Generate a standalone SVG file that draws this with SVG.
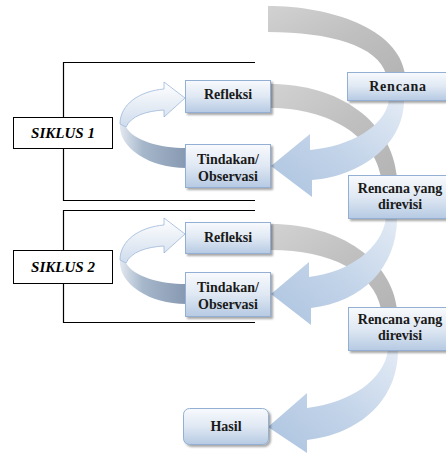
<svg xmlns="http://www.w3.org/2000/svg" width="446" height="454" viewBox="0 0 446 454">
<defs>
<linearGradient id="boxG" x1="0" y1="0" x2="0" y2="1">
<stop offset="0" stop-color="#f8fafd"/><stop offset="0.5" stop-color="#dfe8f3"/><stop offset="1" stop-color="#b6cae3"/>
</linearGradient>
<linearGradient id="grayG" x1="0" y1="0" x2="1" y2="1">
<stop offset="0" stop-color="#d2d2d2"/><stop offset="0.5" stop-color="#c0c0c0"/><stop offset="1" stop-color="#b4b4b4"/>
</linearGradient>
<linearGradient id="blueG" x1="1" y1="0" x2="0" y2="1">
<stop offset="0" stop-color="#e3ebf5"/><stop offset="0.5" stop-color="#c3d4e9"/><stop offset="1" stop-color="#acc3df"/>
</linearGradient>
<linearGradient id="loopL" x1="0" y1="0" x2="0" y2="1">
<stop offset="0" stop-color="#ffffff"/><stop offset="1" stop-color="#cfdcec"/>
</linearGradient>
<linearGradient id="loopD" x1="0" y1="0" x2="1" y2="0">
<stop offset="0" stop-color="#e2e8f0"/><stop offset="0.35" stop-color="#a6b7cb"/><stop offset="1" stop-color="#8799b1"/>
</linearGradient>
<filter id="sh" x="-10%" y="-10%" width="130%" height="150%">
<feGaussianBlur in="SourceAlpha" stdDeviation="1.2"/>
<feOffset dx="1.5" dy="2"/>
<feComponentTransfer><feFuncA type="linear" slope="0.35"/></feComponentTransfer>
<feMerge><feMergeNode/><feMergeNode in="SourceGraphic"/></feMerge>
</filter>
</defs>
<style>
.box{fill:url(#boxG);stroke:#93afd3;stroke-width:1;filter:url(#sh)}
.sik{fill:#ffffff;stroke:#000000;stroke-width:1}
.t{font-family:"Liberation Serif","Times New Roman",serif;font-weight:bold;font-size:14px;fill:#1a1a1a;text-anchor:middle}
.ti{font-family:"Liberation Serif","Times New Roman",serif;font-weight:bold;font-style:italic;font-size:15px;fill:#000000;text-anchor:middle}
.br{fill:none;stroke:#000000;stroke-width:1.2}
.gray{fill:url(#grayG)}
.blue{fill:url(#blueG)}
.ll{fill:url(#loopL);stroke:#9db8da;stroke-width:0.8}
.ld{fill:url(#loopD)}
</style>

<g id="brackets">
<path class="br" d="M255,62.5 H63.5 V200.5 H255"/>
<path class="br" d="M255,210.5 H63.5 V322.5 H255"/>
</g>

<g id="connectors">
<path class="gray" d="M268,6 C330,6 398,28 405,74 L386,74 C378,46 330,32 268,32 Z"/>
<path class="gray" d="M270,84 C340,84 392,122 397,177 L381,177 C374,137 330,108 270,108 Z"/>
<path class="gray" d="M271,224 C342,224 392,262 397,309 L381,309 C374,272 330,250 271,250 Z"/>
<path class="blue" d="M389,100 C385,126 352,146 310,150 L310,134 L271,166 L312,197 L312,180 C362,176 404,144 404,100 Z"/>
<path class="blue" d="M386,218 C382,248 350,272 309,277 L309,262 L271,294 L311,325 L311,308 C362,302 397,268 397,218 Z"/>
<path class="blue" d="M388,350 C384,380 350,403 307,408 L307,393 L268,427 L307,453 L307,440 C360,434 398,400 398,350 Z"/>
<g id="loop1">
<path class="ld" d="M186,148 C160,148 134,141 126,127 L120,124 C118,148 150,168 186,168 Z"/>
<path class="ll" d="M120,124 C120,104 140,91 164,89 L164,82 L185,98 L164,117 L164,110 C146,111 131,116 126,127 Z"/>
</g>
<g id="loop2" transform="translate(0,136)">
<path class="ld" d="M186,148 C160,148 134,141 126,127 L120,124 C118,148 150,168 186,168 Z"/>
<path class="ll" d="M120,124 C120,104 140,91 164,89 L164,82 L185,98 L164,117 L164,110 C146,111 131,116 126,127 Z"/>
</g>
</g>

<g id="siklus1"><rect class="sik" x="13.5" y="117.5" width="99" height="31"/><text class="ti" x="63" y="138">SIKLUS 1</text></g>
<g id="siklus2"><rect class="sik" x="13.5" y="250.5" width="99" height="33"/><text class="ti" x="63" y="272">SIKLUS 2</text></g>

<g id="rencana"><rect class="box" x="347.5" y="72.5" width="102" height="28"/><text class="t" x="398" y="91" letter-spacing="0.8">Rencana</text></g>
<g id="refleksi1"><rect class="box" x="185.5" y="80.5" width="85" height="32"/><text class="t" x="228" y="99">Refleksi</text></g>
<g id="tindakan1"><rect class="box" x="185.5" y="144.5" width="85" height="43"/><text class="t" x="228" y="164">Tindakan/</text><text class="t" x="228" y="181">Observasi</text></g>
<g id="revisi1"><rect class="box" x="348.5" y="175.5" width="102" height="43"/><text class="t" x="400" y="193">Rencana yang</text><text class="t" x="400" y="209">direvisi</text></g>
<g id="refleksi2"><rect class="box" x="185.5" y="222.5" width="85" height="31"/><text class="t" x="228" y="242">Refleksi</text></g>
<g id="tindakan2"><rect class="box" x="185.5" y="272.5" width="85" height="44"/><text class="t" x="228" y="292">Tindakan/</text><text class="t" x="228" y="309">Observasi</text></g>
<g id="revisi2"><rect class="box" x="348.5" y="307.5" width="102" height="43"/><text class="t" x="400" y="324">Rencana yang</text><text class="t" x="400" y="340">direvisi</text></g>
<g id="hasil"><rect class="box" x="183.5" y="408.5" width="85" height="36" rx="6"/><text class="t" x="226" y="431">Hasil</text></g>
</svg>
